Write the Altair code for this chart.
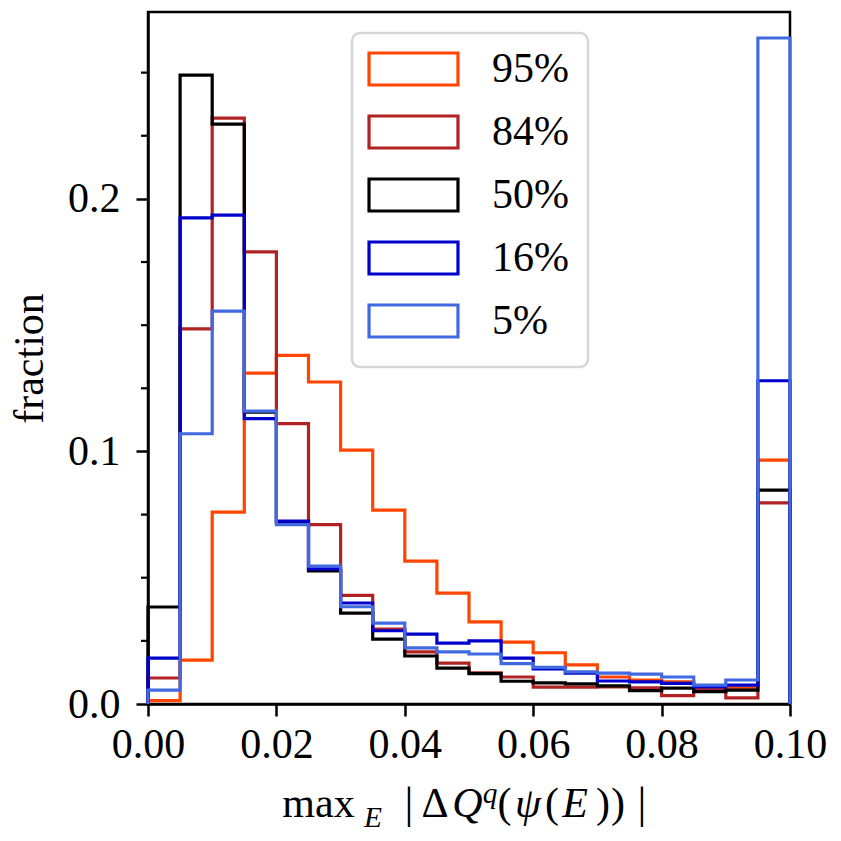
import altair as alt
import pandas as pd

# ---------------- data ----------------
bin_edges = [0.000, 0.005, 0.010, 0.015, 0.020, 0.025, 0.030, 0.035, 0.040, 0.045,
             0.050, 0.055, 0.060, 0.065, 0.070, 0.075, 0.080, 0.085, 0.090, 0.095, 0.100]

series_names = ["95%", "84%", "50%", "16%", "5%"]
series_colors = ["#FF4500", "#B22222", "#000000", "#0000CD", "#4169E1"]

p95 = [0.0013, 0.0174, 0.0760, 0.1310, 0.1380, 0.1275, 0.1005, 0.0768, 0.0566, 0.0439,
       0.0325, 0.0245, 0.0203, 0.0155, 0.0107, 0.0095, 0.0088, 0.0063, 0.0063, 0.0966]
p84 = [0.0103, 0.1485, 0.2320, 0.1790, 0.1110, 0.0710, 0.0430, 0.0297, 0.0206, 0.0162,
       0.0123, 0.0107, 0.0067, 0.0067, 0.0068, 0.0064, 0.0033, 0.0055, 0.0024, 0.0796]
p50 = [0.0384, 0.2490, 0.2296, 0.1156, 0.0720, 0.0527, 0.0360, 0.0257, 0.0190, 0.0142,
       0.0120, 0.0090, 0.0084, 0.0080, 0.0072, 0.0053, 0.0063, 0.0049, 0.0055, 0.0847]
p16 = [0.0182, 0.1925, 0.1936, 0.1130, 0.0724, 0.0535, 0.0400, 0.0290, 0.0277, 0.0241,
       0.0250, 0.0182, 0.0139, 0.0122, 0.0091, 0.0088, 0.0082, 0.0068, 0.0075, 0.1280]
p5 = [0.0055, 0.1070, 0.1556, 0.1160, 0.0710, 0.0546, 0.0385, 0.0320, 0.0222, 0.0206,
      0.0198, 0.0160, 0.0145, 0.0127, 0.0122, 0.0118, 0.0107, 0.0075, 0.0095, 0.2637]

series_values = [p95, p84, p50, p16, p5]

x_ticks = [0.0, 0.02, 0.04, 0.06, 0.08, 0.10]
y_ticks = [0.0, 0.1, 0.2]
y_minor = [0.025, 0.05, 0.075, 0.125, 0.15, 0.175, 0.225, 0.25]

FONT = "Liberation Serif"
FS = 42
LW = 3.2

x_scale = alt.Scale(domain=[0, 0.1], nice=False, zero=False)
y_scale = alt.Scale(domain=[0, 0.274], nice=False, zero=False)
color_scale = alt.Scale(domain=series_names, range=series_colors)

x_axis = alt.Axis(values=x_ticks, format=".2f", title=None, grid=False,
                  tickSize=12, tickWidth=2.5, domainWidth=2.5,
                  labelPadding=8, labelFlush=False)
y_axis = alt.Axis(values=y_ticks, format=".1f", title="fraction", grid=False,
                  tickSize=12, tickWidth=2.5, domainWidth=2.5,
                  labelPadding=16, titlePadding=16, labelFlush=False)


def step_frame(name, vals):
    rows = [{"x": bin_edges[0], "y": 0.0, "o": 0, "series": name}]
    for k, v in enumerate(vals):
        rows.append({"x": bin_edges[k], "y": v, "o": k + 1, "series": name})
    rows.append({"x": bin_edges[-1], "y": vals[-1], "o": len(vals) + 1, "series": name})
    rows.append({"x": bin_edges[-1], "y": 0.0, "o": len(vals) + 2, "series": name})
    return pd.DataFrame(rows)


layers = []
for i, (name, vals) in enumerate(zip(series_names, series_values)):
    enc = dict(
        x=alt.X("x:Q", scale=x_scale, axis=x_axis),
        y=alt.Y("y:Q", scale=y_scale, axis=y_axis if i == 0 else None),
        color=alt.Color("series:N", scale=color_scale, legend=None),
        order=alt.Order("o:Q"),
    )
    layers.append(
        alt.Chart(step_frame(name, vals))
        .mark_line(interpolate="step-after", strokeWidth=LW, strokeJoin="miter")
        .encode(**enc)
    )

# minor y ticks
minor = (
    alt.Chart(pd.DataFrame({"v": y_minor}))
    .mark_rule(color="black", strokeWidth=2.2)
    .encode(y=alt.Y("v:Q", scale=y_scale, axis=None), x=alt.value(-7), x2=alt.value(0))
)

# legend (manual)
leg_df = pd.DataFrame({"series": series_names})
leg_box = (
    alt.Chart(pd.DataFrame({"d": [0]}))
    .mark_rect(fill="white", stroke="#d6d6d6", strokeWidth=2.5, cornerRadius=8)
    .encode(x=alt.value(204), x2=alt.value(440), y=alt.value(21), y2=alt.value(355))
)
leg_y = alt.Y("series:N", sort=series_names,
              scale=alt.Scale(type="point", domain=series_names, range=[57, 309], padding=0),
              axis=None)
leg_sym = (
    alt.Chart(leg_df)
    .mark_point(shape="M-1.39,-0.5H1.39V0.5H-1.39Z", size=4096, filled=False,
                strokeWidth=LW, opacity=1)
    .encode(x=alt.value(265.5), y=leg_y,
            color=alt.Color("series:N", scale=color_scale, legend=None))
)
leg_txt = (
    alt.Chart(leg_df)
    .mark_text(align="left", baseline="middle", font=FONT, fontSize=FS, color="black")
    .encode(x=alt.value(344), y=leg_y, text="series:N")
)

# x axis title, assembled from pieces (math-like)
title_pieces = [
    ("max", 170.5, 805, FS, "normal"),
    ("E", 225, 815, FS * 0.7, "italic"),
    ("|", 261, 806, FS * 1.05, "normal"),
    ("Δ", 287, 805, FS, "normal"),
    ("Q", 319.5, 805, FS, "italic"),
    ("q", 342, 791, FS * 0.7, "italic"),
    ("(", 356.5, 805, FS, "normal"),
    ("ψ", 380, 805, FS, "italic"),
    ("(", 404, 805, FS, "normal"),
    ("E", 427, 805, FS, "italic"),
    (")", 455, 805, FS, "normal"),
    (")", 470, 805, FS, "normal"),
    ("|", 494, 806, FS * 1.05, "normal"),
]
title_layers = []
for txt, px, py, fs, style in title_pieces:
    title_layers.append(
        alt.Chart(pd.DataFrame({"d": [0]}))
        .mark_text(align="center", baseline="alphabetic", font=FONT, fontSize=fs,
                   fontStyle=style, color="black")
        .encode(x=alt.value(px), y=alt.value(py), text=alt.value(txt))
    )

chart = (
    alt.layer(*layers, minor, leg_box, leg_sym, leg_txt, *title_layers)
    .resolve_scale(y="independent")
    .properties(width=642, height=692, background="white",
                autosize=alt.AutoSizeParams(type="none"),
                padding={"left": 140, "top": 4, "right": 40, "bottom": 128})
    .configure_view(stroke="black", strokeWidth=2.5)
    .configure_axis(labelFont=FONT, labelFontSize=FS, titleFont=FONT, titleFontSize=FS,
                    titleFontWeight="normal", labelColor="black", titleColor="black",
                    domainColor="black", tickColor="black")
)

chart.save("out.html", embed_options={"renderer": "svg", "actions": False})
